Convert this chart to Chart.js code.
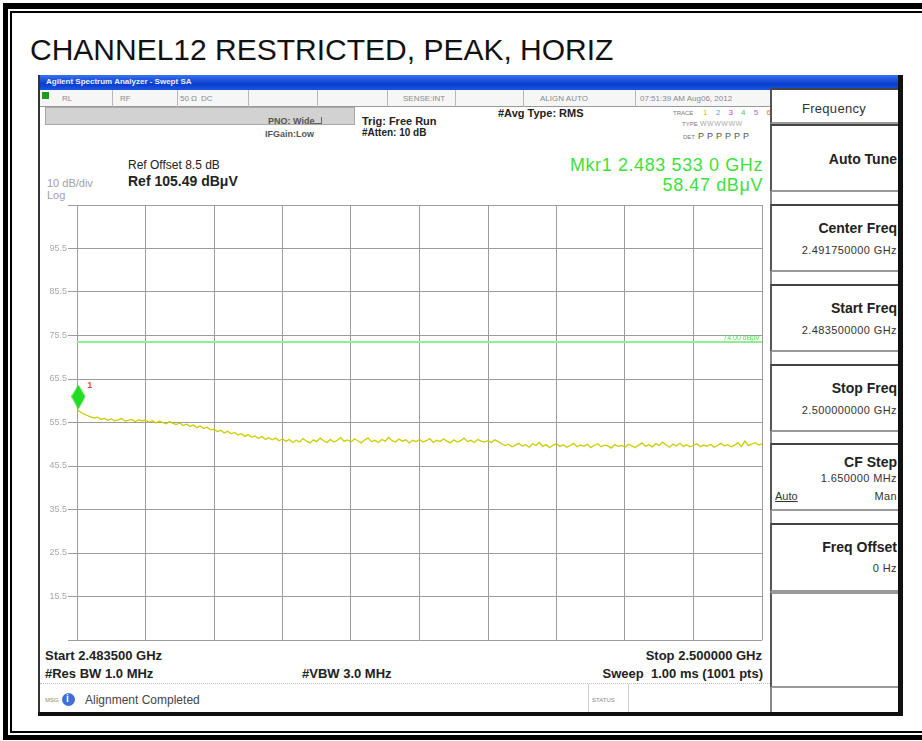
<!DOCTYPE html>
<html>
<head>
<meta charset="utf-8">
<script src="https://cdn.jsdelivr.net/npm/chart.js"></script>
<style>
html, body { margin: 0; padding: 0; background: #fff; }
body { width: 922px; height: 741px; position: relative; overflow: hidden; font-family: "Liberation Sans", Arial, sans-serif; }
.t { position: absolute; white-space: nowrap; line-height: 1; }
.b { position: absolute; }
.r { text-align: right; }
.key { position: absolute; left: 770px; width: 128px; background: #fff; border-top: 2px solid #444; border-left: 2px solid #555; border-bottom: 2px solid #9a9a9a; box-sizing: border-box; }
.kt { position: absolute; right: 25px; white-space: nowrap; line-height: 1; font-weight: bold; font-size: 14px; color: #222; }
.kv { position: absolute; right: 25px; white-space: nowrap; line-height: 1; font-size: 11px; color: #333; letter-spacing: 0.4px; }
.st { position: absolute; white-space: nowrap; line-height: 1; font-size: 8px; color: #8a8a8a; }
.div { position: absolute; top: 90px; width: 1px; height: 17px; background: #b8b8b8; }
</style>
</head>
<body>
<!-- page frame -->
<div class="b" style="left:3px;top:3px;width:919px;height:6px;background:#000"></div>
<div class="b" style="left:11px;top:11px;width:911px;height:2px;background:#000"></div>
<div class="b" style="left:3px;top:3px;width:5px;height:736px;background:#000"></div>
<div class="b" style="left:10px;top:11px;width:2px;height:722px;background:#000"></div>
<div class="b" style="left:10px;top:731px;width:912px;height:2px;background:#000"></div>
<div class="b" style="left:3px;top:735px;width:919px;height:5px;background:#000"></div>

<div class="t" style="left:30px;top:35px;font-size:30px;color:#111">CHANNEL12 RESTRICTED, PEAK, HORIZ</div>

<!-- analyzer screen -->
<div class="b" style="left:38px;top:75px;width:865px;height:641px;background:#fff"></div>
<div class="b" style="left:38px;top:75px;width:2px;height:641px;background:#333"></div>
<div class="b" style="left:898px;top:75px;width:5px;height:641px;background:#111"></div>
<div class="b" style="left:38px;top:712px;width:865px;height:4px;background:#111"></div>
<div class="b" style="left:40px;top:75px;width:858px;height:15px;background:linear-gradient(to bottom,#3a72f0,#0a3ccc 60%,#1a55e6)"></div>
<div class="t" style="left:46px;top:78px;font-size:8px;font-weight:bold;color:#e8eeff">Agilent Spectrum Analyzer - Swept SA</div>

<!-- status row -->
<div class="b" style="left:40px;top:90px;width:730px;height:17px;background:#f6f6f6;border-bottom:1px solid #999;box-sizing:border-box"></div>
<div class="b" style="left:42px;top:92px;width:7px;height:7px;background:#1c9a1c"></div>
<div class="div" style="left:112px"></div>
<div class="div" style="left:177px"></div>
<div class="div" style="left:248px"></div>
<div class="div" style="left:317px"></div>
<div class="div" style="left:387px"></div>
<div class="div" style="left:455px"></div>
<div class="div" style="left:523px"></div>
<div class="div" style="left:635px"></div>
<div class="st" style="left:62px;top:95px">RL</div>
<div class="st" style="left:120px;top:95px">RF</div>
<div class="st" style="left:180px;top:95px">50 Ω</div>
<div class="st" style="left:201px;top:95px">DC</div>
<div class="st" style="left:403px;top:95px">SENSE:INT</div>
<div class="st" style="left:540px;top:95px">ALIGN AUTO</div>
<div class="st" style="left:640px;top:95px">07:51:39 AM Aug06, 2012</div>

<div class="b" style="left:45px;top:107px;width:310px;height:18px;background:#d2d2d2;border:1px solid #a8a8a8;box-sizing:border-box"></div>

<div class="t" style="left:268px;top:117px;font-size:9px;font-weight:bold;color:#555">PNO: Wide</div>
<div class="b" style="left:310px;top:117px;width:11px;height:6px;border:1px solid #666;border-top:none;border-left:none"></div>
<div class="t" style="left:265px;top:130px;font-size:9px;font-weight:bold;color:#555">IFGain:Low</div>
<div class="t" style="left:362px;top:116px;font-size:11px;font-weight:bold;color:#222">Trig: Free Run</div>
<div class="t" style="left:362px;top:128px;font-size:10px;font-weight:bold;color:#222">#Atten: 10 dB</div>
<div class="t" style="left:498px;top:108px;font-size:11px;font-weight:bold;color:#222">#Avg Type: RMS</div>

<div class="t" style="left:673px;top:110px;font-size:6px;color:#777">TRACE</div>
<div class="t" style="left:703px;top:109px;font-size:8px;letter-spacing:3px"><span style="color:#c8c800">1</span> <span style="color:#40b8e0">2</span> <span style="color:#d040d0">3</span> <span style="color:#60c060">4</span> <span style="color:#c060d0">5</span> <span style="color:#e08040">6</span></div>
<div class="t" style="left:682px;top:121px;font-size:6px;color:#777">TYPE</div>
<div class="t" style="left:700px;top:120px;font-size:7px;color:#aaa;letter-spacing:0.5px">WWWWWW</div>
<div class="t" style="left:683px;top:134px;font-size:6px;color:#777">DET</div>
<div class="t" style="left:698px;top:132px;font-size:9px;color:#555;letter-spacing:3px">PPPPPP</div>

<div class="t" style="left:128px;top:159px;font-size:12px;color:#222">Ref Offset 8.5 dB</div>
<div class="t" style="left:128px;top:174px;font-size:14px;font-weight:bold;color:#222">Ref 105.49 dBμV</div>
<div class="t" style="left:47px;top:178px;font-size:11px;color:#a0a0a0">10 dB/div</div>
<div class="t" style="left:47px;top:190px;font-size:11px;color:#a0a0a0">Log</div>

<div class="t r" style="right:159px;top:156px;font-size:18px;color:#3ee03e;letter-spacing:0.6px">Mkr1 2.483 533 0 GHz</div>
<div class="t r" style="right:159px;top:176px;font-size:18px;color:#3ee03e;letter-spacing:0.6px">58.47 dBμV</div>

<canvas id="spec" width="730" height="453" style="position:absolute;left:40px;top:195px"></canvas>

<div class="t" style="left:45px;top:649px;font-size:13px;font-weight:bold;color:#222">Start 2.483500 GHz</div>
<div class="t" style="left:45px;top:667px;font-size:13px;font-weight:bold;color:#222">#Res BW 1.0 MHz</div>
<div class="t" style="left:302px;top:667px;font-size:13px;font-weight:bold;color:#222">#VBW 3.0 MHz</div>
<div class="t r" style="right:160px;top:649px;font-size:13px;font-weight:bold;color:#222">Stop 2.500000 GHz</div>
<div class="t r" style="right:159px;top:667px;font-size:13px;font-weight:bold;color:#222">Sweep&nbsp; 1.00 ms (1001 pts)</div>

<div class="b" style="left:40px;top:683px;width:730px;height:0;border-top:1px dotted #bbb"></div>
<div class="t" style="left:45px;top:697px;font-size:6px;color:#888">MSG</div>
<div class="b" style="left:62px;top:693px;width:13px;height:13px;border-radius:7px;background:#3a70d8"></div>
<div class="t" style="left:66px;top:694px;font-size:10px;font-weight:bold;color:#fff">i</div>
<div class="t" style="left:85px;top:694px;font-size:12px;color:#444">Alignment Completed</div>
<div class="b" style="left:588px;top:684px;width:39px;height:28px;border-left:1px solid #ccc;border-right:1px solid #ccc"></div>
<div class="t" style="left:592px;top:697px;font-size:6px;color:#888">STATUS</div>

<!-- softkey panel -->
<div class="b" style="left:770px;top:88px;width:128px;height:624px;background:#fff;border-left:2px solid #888;box-sizing:border-box"></div>
<div class="key" style="top:88px;height:36px"></div>
<div class="t" style="left:770px;width:128px;text-align:center;top:102px;font-size:13px;color:#333;letter-spacing:0.3px">Frequency</div>
<div class="key" style="top:124px;height:68px"></div>
<div class="kt" style="top:152px">Auto Tune</div>
<div class="key" style="top:204px;height:68px"></div>
<div class="kt" style="top:221px">Center Freq</div>
<div class="kv" style="top:245px">2.491750000 GHz</div>
<div class="key" style="top:284px;height:68px"></div>
<div class="kt" style="top:301px">Start Freq</div>
<div class="kv" style="top:325px">2.483500000 GHz</div>
<div class="key" style="top:364px;height:68px"></div>
<div class="kt" style="top:381px">Stop Freq</div>
<div class="kv" style="top:405px">2.500000000 GHz</div>
<div class="key" style="top:443px;height:68px"></div>
<div class="kt" style="top:455px">CF Step</div>
<div class="kv" style="top:473px">1.650000 MHz</div>
<div class="t" style="left:775px;top:491px;font-size:11px;color:#333;text-decoration:underline">Auto</div>
<div class="kv" style="top:491px">Man</div>
<div class="key" style="top:523px;height:69px"></div>
<div class="kt" style="top:540px">Freq Offset</div>
<div class="kv" style="top:563px">0 Hz</div>
<div class="key" style="top:592px;height:96px;border-top-color:#999"></div>

<script>
// sweep settings (MHz, dBuV)
const startMHz = 2483.5;
const stopMHz = 2500.0;
const refLevel = 105.49;
const displayLine = 74.0;
const markerFreq = 2483.533;
const markerLevel = 58.47;

const yTickLabels = ['95.5', '85.5', '75.5', '65.5', '55.5', '45.5', '35.5', '25.5', '15.5'];

// trace 1, every 5th sweep point (201 pts)
const traceLevels = [
    58.5, 57.9, 57.4, 57.1, 56.8, 56.5, 56.7, 56.2, 56.4, 56.0, 56.3, 55.9, 56.1, 56.4, 55.8, 56.0, 56.2, 55.7, 56.1, 55.9,
    56.0, 55.6, 55.9, 55.4, 55.8, 55.5, 55.2, 55.7, 55.3, 55.0, 55.4, 54.8, 55.1, 54.6, 54.9, 54.3, 54.7, 54.1, 54.4, 53.8,
    53.9, 53.4, 53.7, 53.1, 53.5, 52.9, 53.2, 52.6, 52.9, 52.3, 52.7, 52.1, 52.4, 51.8, 52.3, 51.6, 52.0, 51.5, 51.9, 51.3,
    51.7, 51.2, 51.6, 50.9, 51.4, 51.0, 51.8, 51.2, 50.8, 51.5, 51.1, 51.9, 51.3, 50.9, 51.6, 51.0, 51.4, 52.0, 51.2, 51.5,
    51.0, 51.7, 51.3, 50.8, 51.5, 51.9, 51.1, 51.4, 50.9, 51.6, 51.2, 52.1, 51.3, 51.0, 51.7, 51.2, 51.5, 50.8, 51.4, 51.1,
    51.6, 51.0, 51.3, 51.8, 50.9, 51.4, 51.1, 51.7, 51.2, 50.8, 51.5, 51.0, 51.3, 51.9, 51.1, 51.4, 50.9, 51.6, 51.2, 51.0,
    51.3, 50.9, 51.5, 51.1, 50.6, 50.2, 50.5, 49.9, 50.3, 50.7, 50.1, 50.4, 49.8, 50.6, 50.2, 50.9, 50.0, 50.4, 49.7, 50.3,
    50.6, 50.0, 50.4, 49.8, 50.2, 50.7, 49.9, 50.3, 50.0, 50.5, 49.7, 50.2, 50.6, 49.9, 50.3, 50.1, 49.6, 50.4, 50.0, 50.2,
    49.8, 50.5, 50.1, 49.7, 50.3, 50.8, 50.0, 50.4, 49.9, 50.6, 50.2, 51.0, 50.3, 49.8, 50.5, 50.1, 50.7, 50.0, 50.4, 49.9,
    50.2, 50.6, 49.9, 50.3, 50.0, 50.5, 49.8, 50.2, 50.7, 50.1, 50.4, 49.9, 50.3, 50.8, 50.0, 51.2, 50.2, 50.5, 50.9, 50.3,
    50.6
];

const span = stopMHz - startMHz;
const traceData = traceLevels.map((v, i) => ({ x: startMHz + i * span / (traceLevels.length - 1), y: v }));

// marker 1 symbol: diamond with its lower tip on the point
const mkrImg = document.createElement('canvas');
mkrImg.width = 14;
mkrImg.height = 50;
const m = mkrImg.getContext('2d');
m.fillStyle = '#22dd22';
m.beginPath();
m.moveTo(7, 0);
m.lineTo(14, 12);
m.lineTo(7, 25);
m.lineTo(0, 12);
m.closePath();
m.fill();

const screenLabels = {
    id: 'screenLabels',
    afterDatasetsDraw(chart) {
        const { ctx, chartArea } = chart;
        const x = chart.scales.x, y = chart.scales.y;
        ctx.save();
        const dy = y.getPixelForValue(displayLine);
        ctx.fillStyle = '#55dd55';
        ctx.font = '7px "Liberation Sans"';
        ctx.textAlign = 'right';
        ctx.fillText(displayLine.toFixed(2) + ' dBµV', chartArea.right - 2, dy - 2);
        const mx = x.getPixelForValue(markerFreq);
        const my = y.getPixelForValue(markerLevel);
        ctx.fillStyle = '#e05030';
        ctx.font = 'bold 9px "Liberation Sans"';
        ctx.textAlign = 'left';
        ctx.fillText('1', mx + 9, my - 22);
        ctx.restore();
    }
};

new Chart(document.getElementById('spec'), {
    type: 'line',
    data: {
        datasets: [
            {
                label: 'Mkr1',
                data: [{ x: markerFreq, y: markerLevel }],
                showLine: false,
                pointStyle: mkrImg,
                pointRadius: 7,
                clip: false,
                order: 1
            },
            {
                label: 'Trace 1',
                data: traceData,
                borderColor: '#cccc00',
                borderWidth: 1.3,
                pointRadius: 0,
                tension: 0,
                order: 2
            },
            {
                label: 'Display line',
                data: [{ x: startMHz, y: displayLine }, { x: stopMHz, y: displayLine }],
                borderColor: '#8fee8f',
                borderWidth: 2,
                pointRadius: 0,
                order: 3
            }
        ]
    },
    options: {
        responsive: false,
        animation: false,
        layout: { padding: { top: 10, right: 7, bottom: 5, left: 0 } },
        plugins: { legend: { display: false }, tooltip: { enabled: false } },
        scales: {
            x: {
                type: 'linear',
                min: startMHz,
                max: stopMHz,
                afterBuildTicks: (s) => { s.ticks = Array.from({ length: 11 }, (_, i) => ({ value: startMHz + i * span / 10 })); },
                afterFit: (s) => { s.height = 0; },
                ticks: { display: false },
                grid: { color: '#9c9c9c', drawTicks: false },
                border: { display: false }
            },
            y: {
                min: refLevel - 100,
                max: refLevel,
                afterBuildTicks: (s) => { s.ticks = Array.from({ length: 11 }, (_, i) => ({ value: refLevel - 100 + i * 10 })); },
                afterFit: (s) => { s.width = 37; },
                ticks: {
                    color: '#a8a8a8',
                    font: { family: 'Liberation Sans', size: 9 },
                    padding: 1,
                    callback: (v, i) => (i === 0 || i === 10) ? '' : yTickLabels[9 - i]
                },
                grid: { color: '#9c9c9c', tickLength: 9 },
                border: { display: false }
            }
        }
    },
    plugins: [screenLabels]
});
</script>
</body>
</html>
